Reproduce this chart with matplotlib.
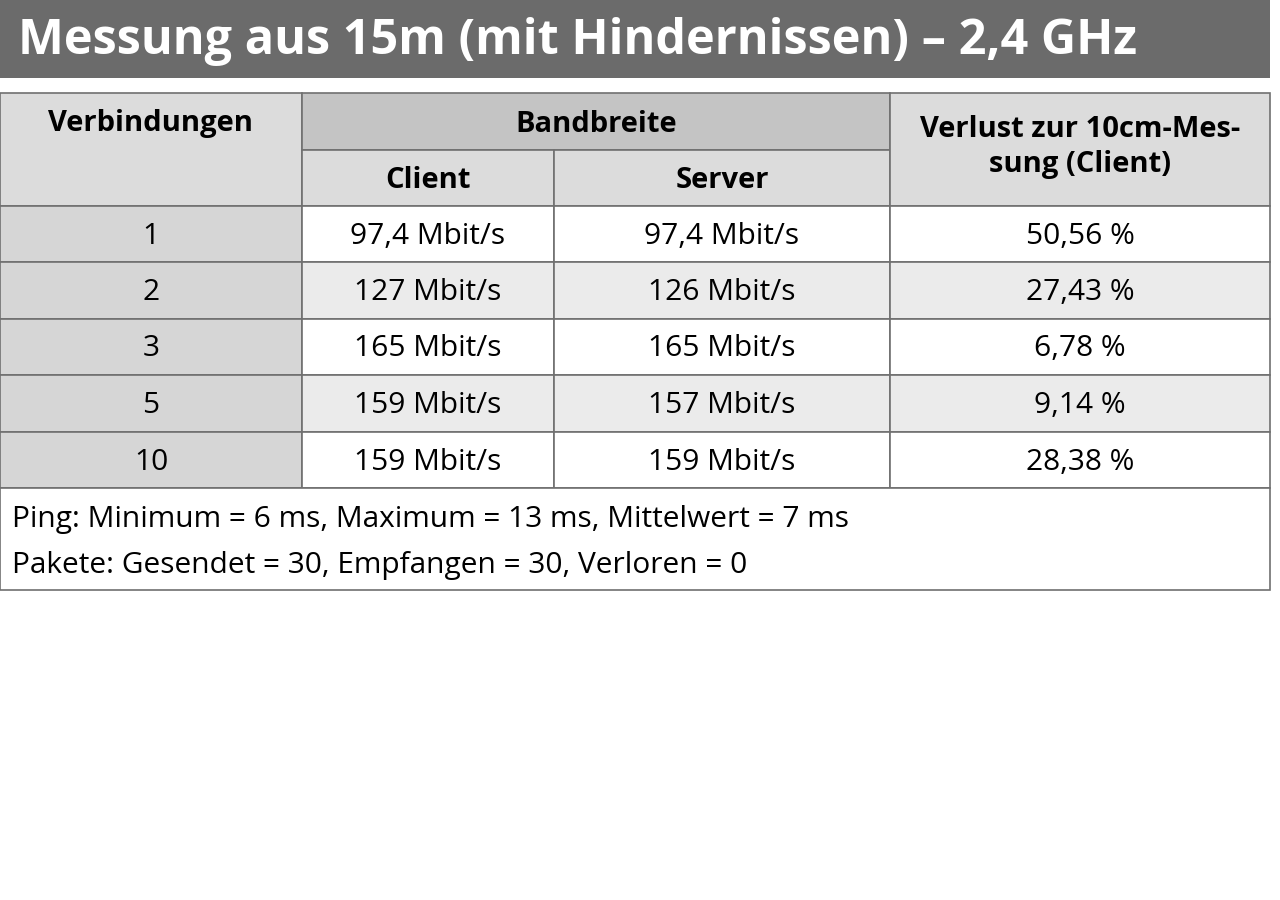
import matplotlib
matplotlib.use("Agg")
import matplotlib.pyplot as plt
from matplotlib.patches import Rectangle
from matplotlib import font_manager

names = {f.name for f in font_manager.fontManager.ttflist}
fam = [n for n in ["Liberation Sans Narrow", "Open Sans", "DejaVu Sans"] if n in names]
plt.rcParams['font.family'] = fam

title = "Messung aus 15m (mit Hindernissen) – 2,4 GHz"
connections = ["1", "2", "3", "5", "10"]
client = ["97,4 Mbit/s", "127 Mbit/s", "165 Mbit/s", "159 Mbit/s", "159 Mbit/s"]
server = ["97,4 Mbit/s", "126 Mbit/s", "165 Mbit/s", "157 Mbit/s", "159 Mbit/s"]
loss = ["50,56 %", "27,43 %", "6,78 %", "9,14 %", "28,38 %"]
footer = ["Ping: Minimum = 6 ms, Maximum = 13 ms, Mittelwert = 7 ms",
          "Pakete: Gesendet = 30, Empfangen = 30, Verloren = 0"]

fig = plt.figure(figsize=(12.8, 9.0), dpi=100)
ax = fig.add_axes([0, 0, 1, 1])
ax.set_xlim(0, 1280); ax.set_ylim(900, 0); ax.axis("off")

def rect(x0, y0, x1, y1, fc, ec="#707070", lw=1.2):
    ax.add_patch(Rectangle((x0, y0), x1 - x0, y1 - y0, facecolor=fc, edgecolor=ec, linewidth=lw))

# title bar
rect(0, 0, 1270, 78, "#6b6b6b", ec="none")
ax.text(18, 42, title, color="white", fontsize=35, fontweight="bold", va="center", ha="left")

cx = [0, 302, 554, 890, 1270]
hy = [93, 150, 206]
rows_y = [206, 262, 319, 375, 432, 488]
hfs = 21; fs = 21.5

# header
rect(cx[0], hy[0], cx[1], hy[2], "#dcdcdc")
rect(cx[1], hy[0], cx[3], hy[1], "#c4c4c4")
rect(cx[1], hy[1], cx[2], hy[2], "#dcdcdc")
rect(cx[2], hy[1], cx[3], hy[2], "#dcdcdc")
rect(cx[3], hy[0], cx[4], hy[2], "#dcdcdc")
ax.text((cx[0]+cx[1])/2, 124, "Verbindungen", ha="center", va="center", fontsize=hfs, fontweight="bold")
ax.text((cx[1]+cx[3])/2, 124, "Bandbreite", ha="center", va="center", fontsize=hfs, fontweight="bold")
ax.text((cx[1]+cx[2])/2, 181, "Client", ha="center", va="center", fontsize=hfs, fontweight="bold")
ax.text((cx[2]+cx[3])/2, 181, "Server", ha="center", va="center", fontsize=hfs, fontweight="bold")
ax.text((cx[3]+cx[4])/2, 147, "Verlust zur 10cm-Mes-\nsung (Client)", ha="center", va="center",
        fontsize=hfs, fontweight="bold", linespacing=1.25)

for i in range(len(connections)):
    y0, y1 = rows_y[i], rows_y[i+1]
    bg = "white" if i % 2 == 0 else "#ebebeb"
    rect(cx[0], y0, cx[1], y1, "#d6d6d6")
    for j in range(1, 4):
        rect(cx[j], y0, cx[j+1], y1, bg)
    vals = [connections[i], client[i], server[i], loss[i]]
    for j, v in enumerate(vals):
        ax.text((cx[j]+cx[j+1])/2, (y0+y1)/2 + 2, v, ha="center", va="center", fontsize=fs)

rect(0, 488, 1270, 590, "white")
ax.text(12, 520, footer[0], ha="left", va="center", fontsize=fs)
ax.text(12, 565, footer[1], ha="left", va="center", fontsize=fs)

fig.savefig("out.png", dpi=100, facecolor="white")
